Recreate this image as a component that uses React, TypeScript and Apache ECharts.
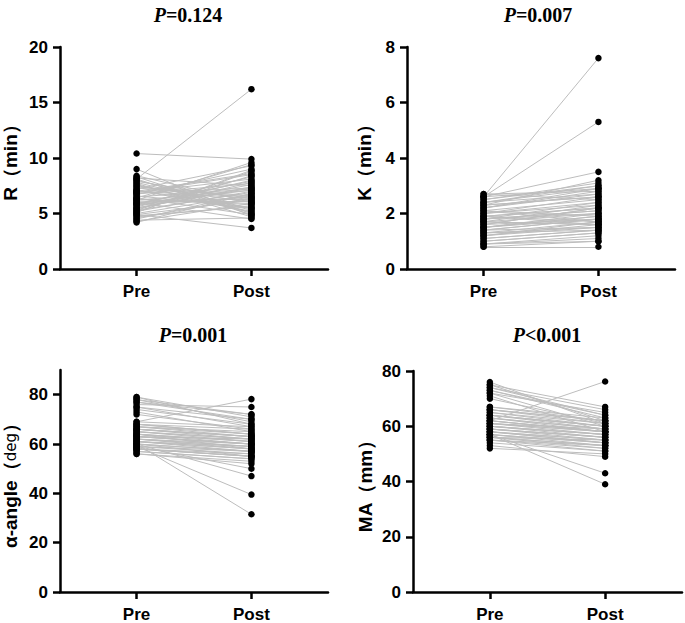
import React, { useEffect, useRef } from "react";
import * as echarts from "echarts";

const groups = ["Pre", "Post"];
const groupX = [2, 5];

const pValues = ["=0.124", "=0.007", "=0.001", "<0.001"];
const yNames = ["R（min）", "K（min）", "α-angle（deg）", "MA（mm）"];

const rPre = [6.2, 5.8, 7.1, 4.5, 5.3, 6.8, 8.1, 7.5, 4.8, 5.9, 6.4, 7.9, 5.1, 6.6, 4.3, 5.5, 7.2, 6.0, 8.3, 5.0, 6.9, 7.7, 4.6, 5.7, 6.3, 10.4, 5.2, 7.0, 6.1, 4.9, 8.0, 5.4, 6.7, 7.4, 4.4, 5.6, 9.0, 6.5, 7.8, 5.3, 6.2, 4.7, 7.3, 8.2, 5.8, 6.0, 4.2, 7.6, 6.8, 5.1, 8.4, 6.4, 5.5, 7.1, 4.9, 6.9, 5.9, 8.1, 7.0, 6.3];
const rPost = [7.1, 6.5, 5.2, 6.8, 8.4, 7.3, 16.2, 6.0, 5.6, 7.9, 4.9, 6.2, 8.8, 5.5, 5.9, 7.4, 9.3, 6.1, 5.0, 6.7, 8.1, 4.7, 6.4, 7.6, 5.8, 9.9, 7.0, 8.6, 6.3, 3.7, 5.4, 7.8, 9.0, 6.6, 4.6, 8.0, 4.8, 7.2, 5.3, 6.9, 9.6, 5.7, 6.5, 7.5, 8.3, 4.5, 6.8, 5.1, 7.7, 8.9, 6.0, 9.4, 7.3, 5.5, 6.2, 8.5, 7.1, 4.9, 6.4, 5.9];

const kPre = [1.8, 2.6, 2.6, 1.2, 1.5, 2.2, 0.9, 1.7, 2.4, 1.1, 1.9, 2.5, 1.4, 2.0, 0.8, 1.6, 2.3, 1.3, 2.7, 1.0, 1.8, 2.1, 1.5, 2.6, 1.7, 0.9, 2.4, 1.2, 1.9, 2.2, 1.6, 1.4, 2.0, 2.5, 1.1, 1.8, 1.3, 2.3, 1.7, 0.8, 2.1, 1.5, 2.7, 1.0, 1.9, 1.6, 2.2, 1.4, 2.4, 1.2, 1.8, 2.0, 1.7, 2.6, 1.5, 0.9, 2.3, 1.3, 1.9, 2.1];
const kPost = [2.1, 7.6, 5.3, 1.6, 1.9, 2.8, 1.2, 2.3, 2.9, 1.4, 1.7, 3.0, 1.8, 2.6, 1.0, 2.2, 3.2, 1.5, 2.5, 1.3, 2.4, 1.9, 2.0, 3.5, 1.6, 1.1, 2.7, 1.7, 2.2, 2.9, 1.8, 1.5, 2.3, 3.1, 1.4, 2.1, 1.7, 2.6, 2.0, 0.8, 2.5, 1.9, 2.8, 1.3, 1.6, 2.2, 2.7, 1.8, 3.0, 1.5, 2.0, 2.4, 1.6, 2.9, 1.8, 1.0, 2.6, 1.4, 2.2, 1.7];

const aPre = [62, 58, 66, 79, 60, 64, 68, 60, 75, 63, 56, 67, 61, 77, 59, 65, 69, 57, 73, 62, 66, 60, 78, 64, 58, 67, 63, 76, 61, 59, 65, 68, 56, 74, 62, 60, 66, 72, 64, 58, 69, 63, 79, 61, 67, 59, 65, 75, 62, 60, 68, 57, 64, 77, 66, 58, 61, 63, 78, 59];
const aPost = [58, 55, 63, 68, 31.5, 60, 66, 57, 70, 62, 52, 64, 59, 72, 39.5, 61, 67, 54, 65, 60, 62, 55, 69, 58, 56, 63, 60, 75, 57, 50, 62, 64, 53, 68, 59, 47, 63, 66, 61, 55, 78.2, 60, 71, 58, 65, 56, 62, 67, 59, 57, 64, 54, 61, 70, 63, 55, 58, 60, 72, 57];

const maPre = [60, 56, 64, 75, 53, 62, 67, 58, 72, 61, 54, 65, 59, 74, 57, 63, 66, 55, 71, 60, 64, 58, 76, 62, 56, 65, 61, 73, 59, 57, 63, 67, 52, 70, 60, 58, 64, 62, 56, 55, 61, 57, 75, 59, 66, 57, 63, 72, 60, 58, 66, 55, 62, 74, 64, 56, 59, 61, 73, 57];
const maPost = [57, 55, 60, 62, 49, 58, 63, 54, 60, 59, 51, 61, 56, 64, 43, 58, 62, 53, 58, 57, 59, 54, 61, 58, 52, 60, 57, 63, 55, 39, 59, 62, 50, 61, 56, 55, 60, 76.2, 53, 52, 58, 54, 67, 56, 61, 53, 59, 65, 57, 55, 62, 51, 58, 66, 60, 53, 56, 58, 64, 54];

const preData = [rPre, kPre, aPre, maPre];
const postData = [rPost, kPost, aPost, maPost];
const yMax = [20, 8, 90, 80];
const yTicks = [
  [0, 5, 10, 15, 20],
  [0, 2, 4, 6, 8],
  [0, 20, 40, 60, 80],
  [0, 20, 40, 60, 80],
];

const grids = [
  { left: 60, top: 47, width: 268, height: 222 },
  { left: 407, top: 47, width: 268, height: 222 },
  { left: 60, top: 370, width: 268, height: 224 },
  { left: 413, top: 371, width: 269, height: 223 },
];
const titlePos = [
  [188, 15],
  [538, 15],
  [193, 335],
  [547, 335],
];
const nameGaps = [40, 33, 40, 38];

export default function App() {
  const ref = useRef<HTMLDivElement>(null);
  useEffect(() => {
    if (!ref.current) return;
    const chart = echarts.init(ref.current, null, { renderer: "svg" });
    const font = "Liberation Sans, Arial, sans-serif";
    const xAxis = grids.map((_, i) => ({
      type: "value",
      gridIndex: i,
      min: 0,
      max: 7,
      interval: 1,
      splitLine: { show: false },
      axisLine: { show: true, lineStyle: { color: "#000", width: 2.5 } },
      axisTick: {
        show: true,
        customValues: groupX,
        length: 7,
        lineStyle: { color: "#000", width: 2.5 },
      },
      axisLabel: {
        customValues: groupX,
        formatter: (v: number) => groups[groupX.indexOf(v)] ?? "",
        color: "#000",
        fontSize: 17,
        fontWeight: "bold",
        fontFamily: font,
        margin: 14,
      },
    }));
    const yAxis = grids.map((_, i) => ({
      type: "value",
      gridIndex: i,
      min: 0,
      max: yMax[i],
      splitLine: { show: false },
      name: i === 2 ? "{a|α-angle（}{b|deg}{a|）}" : yNames[i],
      nameLocation: "middle",
      nameGap: nameGaps[i],
      nameRotate: 90,
      nameTextStyle: {
        color: "#000",
        fontSize: 19,
        fontWeight: "bold",
        fontFamily: font,
        rich: {
          a: { fontSize: 19, fontWeight: "bold", fontFamily: font, color: "#000" },
          b: { fontSize: 15, fontWeight: "normal", fontFamily: "DejaVu Sans", color: "#000" },
        },
      },
      axisLine: { show: true, lineStyle: { color: "#000", width: 2.5 } },
      axisTick: {
        show: true,
        customValues: yTicks[i],
        length: 7,
        lineStyle: { color: "#000", width: 2.5 },
      },
      axisLabel: {
        customValues: yTicks[i],
        color: "#000",
        fontSize: 17,
        fontWeight: "bold",
        fontFamily: font,
        margin: 12,
      },
    }));
    const series: any[] = [];
    grids.forEach((_, i) => {
      const pre = preData[i];
      const post = postData[i];
      series.push({
        type: "lines",
        coordinateSystem: "cartesian2d",
        xAxisIndex: i,
        yAxisIndex: i,
        silent: true,
        z: 2,
        lineStyle: { color: "#bdbdbd", width: 1, opacity: 1 },
        data: pre.map((v, j) => ({ coords: [[groupX[0], v], [groupX[1], post[j]]] })),
      });
      series.push({
        type: "scatter",
        xAxisIndex: i,
        yAxisIndex: i,
        z: 3,
        symbolSize: 6.5,
        itemStyle: { color: "#000", opacity: 1 },
        data: [
          ...pre.map((v) => [groupX[0], v]),
          ...post.map((v) => [groupX[1], v]),
        ],
      });
    });
    const graphic = titlePos.map(([x, y], i) => ({
      type: "text",
      x,
      y,
      style: {
        text: "{i|P}{n|" + pValues[i] + "}",
        align: "center",
        verticalAlign: "middle",
        rich: {
          i: { fontFamily: "Liberation Serif, Times New Roman, serif", fontStyle: "italic", fontWeight: "bold", fontSize: 20, fill: "#000" },
          n: { fontFamily: "Liberation Serif, Times New Roman, serif", fontWeight: "bold", fontSize: 20, fill: "#000" },
        },
      },
    }));
    chart.setOption({
      animation: false,
      backgroundColor: "#fff",
      grid: grids,
      xAxis,
      yAxis,
      series,
      graphic,
    });
    return () => chart.dispose();
  }, []);
  return <div ref={ref} style={{ width: 685, height: 623, position: "absolute", left: 0, top: 0 }} />;
}
